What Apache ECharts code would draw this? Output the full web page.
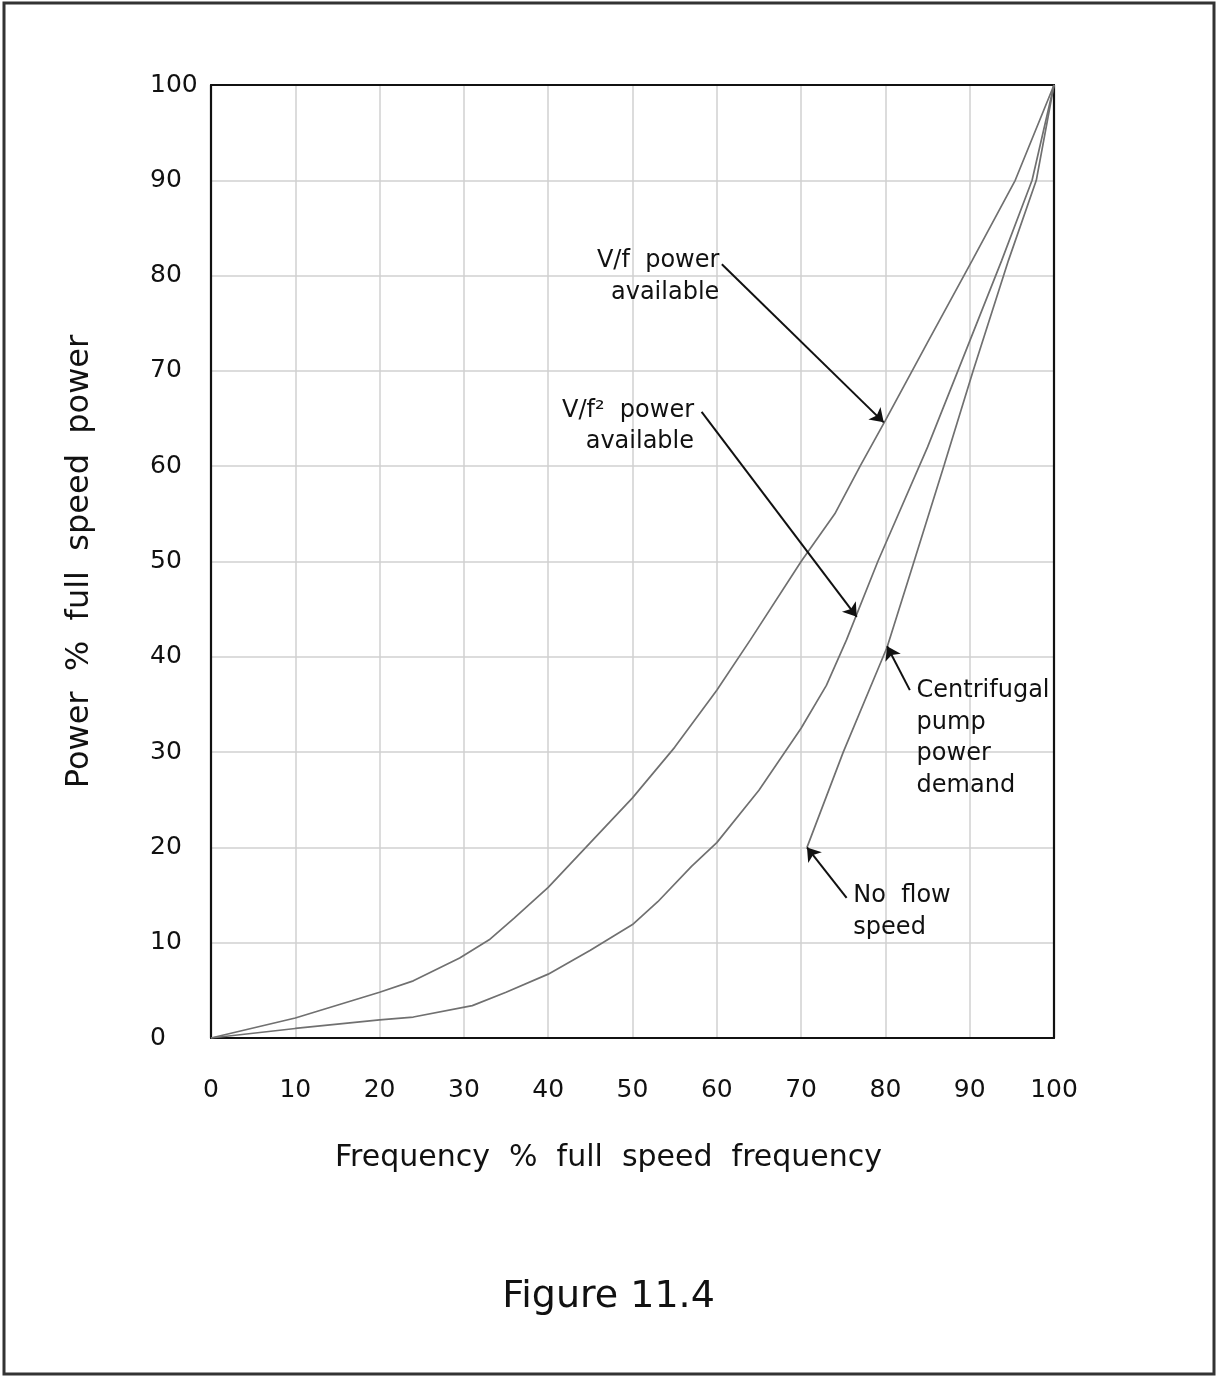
<!DOCTYPE html>
<html>
<head>
<meta charset="utf-8">
<script src="https://cdn.jsdelivr.net/npm/echarts@6/dist/echarts.min.js"></script>
<style>
html,body{margin:0;padding:0;background:#fff;}
#chart{width:1217px;height:1377px;}
</style>
</head>
<body>
<div id="chart"></div>
<script>
// ---- Data ----
const xTicks = [0, 10, 20, 30, 40, 50, 60, 70, 80, 90, 100];
const yTicks = [0, 10, 20, 30, 40, 50, 60, 70, 80, 90, 100];

// V/f power available
const vfFreq  = [0, 10, 20, 24, 29.5, 33, 36, 40, 45, 50, 55, 60, 64, 70, 74, 77, 80, 85, 90.3, 95.4, 100];
const vfPower = [0, 2.1, 4.8, 6, 8.4, 10.3, 12.6, 15.8, 20.5, 25.2, 30.5, 36.5, 41.8, 50, 55, 60, 64.8, 73, 81.6, 90, 100];

// V/f^2 power available
const vf2Freq  = [0, 10, 20, 24, 31, 35, 40, 45, 50, 53, 57, 60, 65, 70, 73, 75.4, 79.1, 85, 88.6, 93.8, 97.4, 100];
const vf2Power = [0, 1.0, 1.9, 2.2, 3.4, 4.8, 6.7, 9.2, 11.9, 14.3, 18, 20.5, 26, 32.5, 37, 41.8, 50, 62, 70, 81.6, 90, 100];

// Centrifugal pump power demand (starts at no-flow speed)
const pumpFreq  = [70.7, 75, 80.2, 83.5, 87, 90.4, 94.6, 97.9, 100];
const pumpPower = [20, 30, 41, 50.3, 60.2, 70, 81.6, 90, 100];

// Annotations: text lines, arrow tail -> arrow tip (data units)
const annoTexts = [
  ['V/f  power', 'available'],
  ['V/f\u00B2  power', 'available'],
  ['Centrifugal', 'pump', 'power', 'demand'],
  ['No  flow', 'speed']
];
const arrowTail = [[60.6, 81.2], [58.2, 65.7], [82.9, 36.5], [75.4, 14.7]];
const arrowTip  = [[79.8, 64.6], [76.6, 44.2], [80.2, 41.1], [70.7, 20.0]];
const textAnchor = [[60.3, 81.6], [57.3, 65.9], [83.7, 36.5], [76.2, 15.0]];

// ---- Chart ----
const FONT = '"DejaVu Sans", sans-serif';
const zip = (a, b) => a.map((v, i) => [v, b[i]]);
const chart = echarts.init(document.getElementById('chart'), null, {renderer: 'canvas'});

const curveStyle = {color: '#707070', width: 1.7};
const frameLine = {show: true, onZero: false, lineStyle: {color: '#111', width: 2.2}};

const option = {
  backgroundColor: '#ffffff',
  animation: false,
  title: {
    text: 'Figure 11.4',
    left: 'center',
    top: 1273,
    textStyle: {fontFamily: FONT, fontSize: 38, fontWeight: 'normal', color: '#111'}
  },
  grid: {
    left: 211, right: 163, top: 85, bottom: 339,
    show: false
  },
  xAxis: [{
    type: 'value', min: 0, max: 100, interval: 10, position: 'bottom',
    name: 'Frequency  %  full  speed  frequency',
    nameLocation: 'middle', nameGap: 105,
    nameTextStyle: {fontFamily: FONT, fontSize: 30, color: '#111', padding: [0, 48, 0, 0]},
    axisLine: frameLine, axisTick: {show: false},
    axisLabel: {fontFamily: FONT, fontSize: 25, color: '#111', margin: 40,
      formatter: v => xTicks.includes(v) ? String(v) : ''},
    splitLine: {show: true, lineStyle: {color: '#d0d0d0', width: 1.5}}
  }, {
    type: 'value', min: 0, max: 100, interval: 10, position: 'top',
    axisLine: frameLine, axisTick: {show: false}, axisLabel: {show: false},
    splitLine: {show: false}
  }],
  yAxis: [{
    type: 'value', min: 0, max: 100, interval: 10, position: 'left',
    name: 'Power  %  full  speed  power',
    nameLocation: 'middle', nameGap: 115, nameRotate: 90,
    nameTextStyle: {fontFamily: FONT, fontSize: 32, color: '#111'},
    axisLine: frameLine, axisTick: {show: false},
    axisLabel: {fontFamily: FONT, fontSize: 25, color: '#111', margin: 61, align: 'left',
      formatter: v => yTicks.includes(v) ? String(v) : ''},
    splitLine: {show: true, lineStyle: {color: '#d0d0d0', width: 1.5}}
  }, {
    type: 'value', min: 0, max: 100, interval: 10, position: 'right',
    axisLine: frameLine, axisTick: {show: false}, axisLabel: {show: false},
    splitLine: {show: false}
  }],
  series: [
    {name: 'V/f power available', type: 'line', data: zip(vfFreq, vfPower),
      showSymbol: false, lineStyle: curveStyle, itemStyle: {color: '#707070'}},
    {name: 'V/f2 power available', type: 'line', data: zip(vf2Freq, vf2Power),
      showSymbol: false, lineStyle: curveStyle, itemStyle: {color: '#707070'}},
    {name: 'Centrifugal pump power demand', type: 'line', data: zip(pumpFreq, pumpPower),
      showSymbol: false, lineStyle: curveStyle, itemStyle: {color: '#707070'},
      markLine: {
        silent: true, symbol: ['none', 'arrow'], symbolSize: 13,
        label: {show: false},
        lineStyle: {color: '#111', width: 2, type: 'solid'},
        data: arrowTail.map((t, i) => [{coord: t}, {coord: arrowTip[i]}])
      }}
  ]
};
chart.setOption(option);

// Annotation texts positioned from data coordinates
const aligns = ['right', 'right', 'left', 'left'];
const graphics = [{
  type: 'rect', shape: {x: 4, y: 3, width: 1210, height: 1371},
  style: {fill: 'none', stroke: '#333', lineWidth: 3}, silent: true
}];
annoTexts.forEach((lines, i) => {
  const p = chart.convertToPixel({xAxisIndex: 0, yAxisIndex: 0}, textAnchor[i]);
  graphics.push({
    type: 'text', x: p[0], y: p[1] - 15, silent: true,
    style: {
      text: lines.join('\n'), fontFamily: FONT, fontSize: 24, fill: '#111',
      align: aligns[i], verticalAlign: 'top', lineHeight: 31.5
    }
  });
});
chart.setOption({graphic: graphics});
</script>
</body>
</html>
